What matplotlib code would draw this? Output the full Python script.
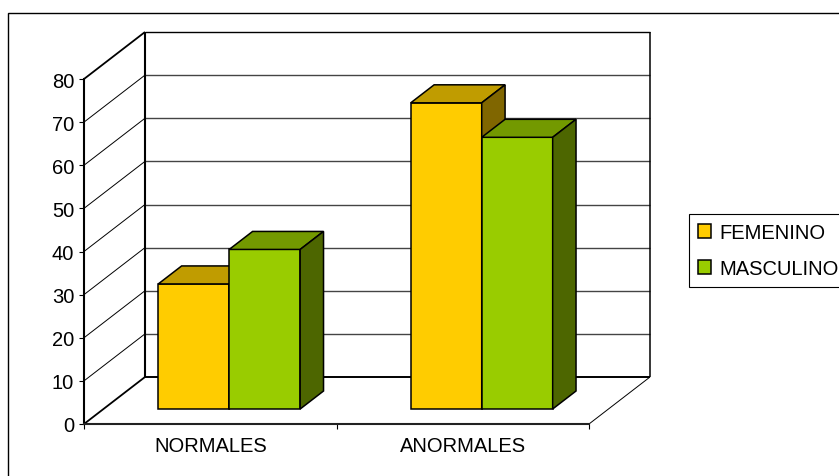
import matplotlib.pyplot as plt
from matplotlib.patches import Patch, Rectangle

categorias = ["NORMALES", "ANORMALES"]
femenino = [29, 71]
masculino = [37, 63]
series = ["FEMENINO", "MASCULINO"]

# front, top, side colours per series
colores = [("#FFCC00", "#C09C00", "#806600"),
           ("#99CC00", "#739900", "#4D6600")]

W, H = 839, 477
plt.rcParams['font.family'] = ['Liberation Sans', 'DejaVu Sans']
fig = plt.figure(figsize=(W / 100, H / 100), dpi=100)
ax = fig.add_axes([84 / W, 1 - 425 / H, (589 - 84) / W, (425 - 80) / H])
ax.set_xlim(0, 2)
ax.set_ylim(0, 80)

# oblique depth vector in data units
DX, DY = 61 / 252.5, 47 / (345 / 80)


def p(x, y, z):
    return x + z * DX, y + z * DY


def linea(a, b, **kw):
    ax.plot([a[0], b[0]], [a[1], b[1]], clip_on=False, solid_capstyle='butt', **kw)


# walls
for v in range(0, 81, 10):
    grueso = v in (0, 80)
    linea(p(2, v, 1), p(0, v, 1), color='black' if grueso else '#444444',
          lw=1.4 if v == 0 else 1.0, zorder=1)
    linea(p(0, v, 0), p(0, v, 1), color='black', lw=1.3 if grueso else 0.7, zorder=1)
linea(p(0, 0, 1), p(0, 80, 1), color='black', lw=1.5, zorder=1)
linea(p(2, 0, 1), p(2, 80, 1), color='black', lw=1.1, zorder=1)
linea(p(2, 0, 0), p(2, 0, 1), color='black', lw=0.7, zorder=1)

# bars
z0, z1 = 15 / 47, 33 / 47
ancho = 0.281
orden = 2
for i, cat in enumerate(categorias):
    c = i + 0.5
    for s, vals in enumerate([femenino, masculino]):
        x0 = c - 0.283 + s * ancho
        x1 = x0 + ancho
        v = vals[i]
        caras = [
            [p(x0, 0, z0), p(x1, 0, z0), p(x1, v, z0), p(x0, v, z0)],
            [p(x0, v, z0), p(x1, v, z0), p(x1, v, z1), p(x0, v, z1)],
            [p(x1, 0, z0), p(x1, 0, z1), p(x1, v, z1), p(x1, v, z0)],
        ]
        for cara, col in zip(caras, colores[s]):
            xs, ys = zip(*cara)
            ax.fill(xs, ys, fc=col, ec='black', lw=1.1, clip_on=False,
                    zorder=orden, joinstyle='miter')
            orden += 1

# axes
for lado in ('top', 'right'):
    ax.spines[lado].set_visible(False)
ax.spines['left'].set_linewidth(1.5)
ax.spines['bottom'].set_linewidth(1.5)
ax.spines['bottom'].set_color('#222222')
ax.set_yticks(range(0, 81, 10))
ax.tick_params(axis='y', length=3.6, width=0.8, pad=3.5, labelsize=14.5)
ax.set_xticks([0, 1, 2])
ax.set_xticklabels([])
ax.set_xticks([0.5, 1.5], minor=True)
ax.set_xticklabels(categorias, minor=True)
ax.tick_params(axis='x', which='major', length=3.6, width=0.8)
ax.tick_params(axis='x', which='minor', length=0, pad=9, labelsize=14.5)
ax.patch.set_visible(False)

# chart border
fig.add_artist(Rectangle((8 / W, -0.1), 2, 1 - 14 / H + 0.1, transform=fig.transFigure,
                         fill=False, ec='black', lw=1.0))

handles = [Patch(fc=colores[s][0], ec='black', lw=1.1) for s in range(2)]
leg = fig.legend(handles=handles, labels=series, loc='upper left',
                 bbox_to_anchor=(689 / W, 1 - 215 / H), fontsize=14.5,
                 frameon=True, fancybox=False, edgecolor='black', framealpha=1,
                 borderpad=0.45, handlelength=0.65, handleheight=0.65,
                 handletextpad=0.4, labelspacing=0.85, borderaxespad=0)
leg.get_frame().set_linewidth(0.8)

fig.savefig('out.png', dpi=100)
